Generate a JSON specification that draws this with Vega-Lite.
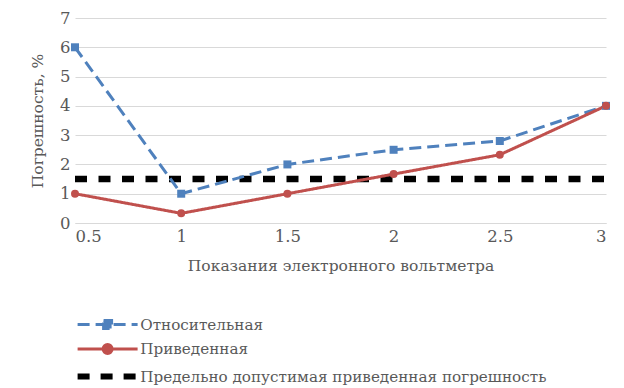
{
  "$schema": "https://vega.github.io/schema/vega-lite/v6.json",
  "autosize": "none",
  "width": 531,
  "height": 205,
  "padding": {"left": 75, "top": 18, "right": 18, "bottom": 165},
  "background": "white",
  "config": {
    "view": {"stroke": null},
    "axis": {
      "labelFont": "DejaVu Serif",
      "titleFont": "DejaVu Serif",
      "labelColor": "#595959",
      "titleColor": "#595959",
      "labelFontSize": 16.5,
      "titleFontSize": 15.5,
      "titleFontWeight": "normal",
      "gridColor": "#d9d9d9",
      "domainColor": "#d9d9d9",
      "ticks": false
    },
    "legend": {
      "labelFont": "DejaVu Serif",
      "labelFontSize": 15.2,
      "labelColor": "#595959",
      "labelLimit": 0
    }
  },
  "data": {
    "values": [
      {"series": "Относительная", "x": 0.5, "y": 6},
      {"series": "Относительная", "x": 1, "y": 1},
      {"series": "Относительная", "x": 1.5, "y": 2},
      {"series": "Относительная", "x": 2, "y": 2.5},
      {"series": "Относительная", "x": 2.5, "y": 2.8},
      {"series": "Относительная", "x": 3, "y": 4},
      {"series": "Приведенная", "x": 0.5, "y": 1},
      {"series": "Приведенная", "x": 1, "y": 0.33},
      {"series": "Приведенная", "x": 1.5, "y": 1},
      {"series": "Приведенная", "x": 2, "y": 1.67},
      {"series": "Приведенная", "x": 2.5, "y": 2.33},
      {"series": "Приведенная", "x": 3, "y": 4},
      {"series": "Предельно допустимая приведенная погрешность", "x": 0.5, "y": 1.5},
      {"series": "Предельно допустимая приведенная погрешность", "x": 3, "y": 1.5}
    ]
  },
  "encoding": {
    "x": {
      "field": "x", "type": "quantitative",
      "scale": {"domain": [0.5, 3], "nice": false, "zero": false},
      "axis": {"values": [0.5, 1, 1.5, 2, 2.5, 3], "format": "~g", "grid": false, "labelPadding": 5, "titlePadding": 14, "title": "Показания электронного вольтметра"}
    },
    "y": {
      "field": "y", "type": "quantitative",
      "scale": {"domain": [0, 7], "nice": false},
      "axis": {"values": [0, 1, 2, 3, 4, 5, 6, 7], "domain": false, "labelPadding": 5, "titlePadding": 14, "title": "Погрешность, %"}
    }
  },
  "layer": [
    {
      "transform": [{"filter": "datum.series === 'Предельно допустимая приведенная погрешность'"}],
      "mark": {"type": "line", "strokeCap": "butt", "clip": false, "strokeWidth": 6.5, "strokeDash": [12, 11.5]},
      "encoding": {
        "color": {
          "field": "series", "type": "nominal",
          "scale": {
            "domain": ["Относительная", "Приведенная", "Предельно допустимая приведенная погрешность"],
            "range": ["#4F81BD", "#C0504D", "#000000"]
          },
          "legend": {
            "title": null,
            "orient": "none",
            "legendX": 0,
            "legendY": 299,
            "symbolSize": 100,
            "symbolOffset": 25,
            "rowPadding": 3.5,
            "labelOffset": 25,
            "encode": {
              "symbols": {
                "update": {
                  "shape": {"signal": "datum.value === 'Относительная' ? 'M-6,0H6M-0.8,-0.8H0.8V0.8H-0.8Z' : datum.value === 'Приведенная' ? 'M-6,0H6M0.9,0A0.9,0.9 0 1,1 -0.9,0A0.9,0.9 0 1,1 0.9,0Z' : 'M-6,0H6'"},
                  "strokeDash": {"signal": "datum.value === 'Относительная' ? [12,6] : datum.value === 'Приведенная' ? [] : [12,11]"},
                  "strokeWidth": {"signal": "datum.value === 'Предельно допустимая приведенная погрешность' ? 6 : 3"},
                  "fill": {"signal": "datum.value === 'Относительная' ? '#4F81BD' : datum.value === 'Приведенная' ? '#C0504D' : 'transparent'"},
                  "size": {"value": 100},
                  "opacity": {"value": 1}
                }
              }
            }
          }
        }
      }
    },
    {
      "transform": [{"filter": "datum.series !== 'Предельно допустимая приведенная погрешность'"}],
      "mark": {"type": "line", "strokeCap": "butt", "clip": false, "strokeWidth": 3},
      "encoding": {
        "color": {"field": "series", "type": "nominal"},
        "strokeDash": {
          "field": "series", "type": "nominal",
          "scale": {
            "domain": ["Относительная", "Приведенная"],
            "range": [[12, 6], [1, 0]]
          },
          "legend": null
        }
      }
    },
    {
      "transform": [{"filter": "datum.series !== 'Предельно допустимая приведенная погрешность'"}],
      "mark": {"type": "point", "filled": true, "opacity": 1, "size": 64, "clip": false},
      "encoding": {
        "color": {"field": "series", "type": "nominal"},
        "shape": {
          "field": "series", "type": "nominal",
          "scale": {"domain": ["Относительная", "Приведенная"], "range": ["square", "circle"]},
          "legend": null
        }
      }
    }
  ]
}
